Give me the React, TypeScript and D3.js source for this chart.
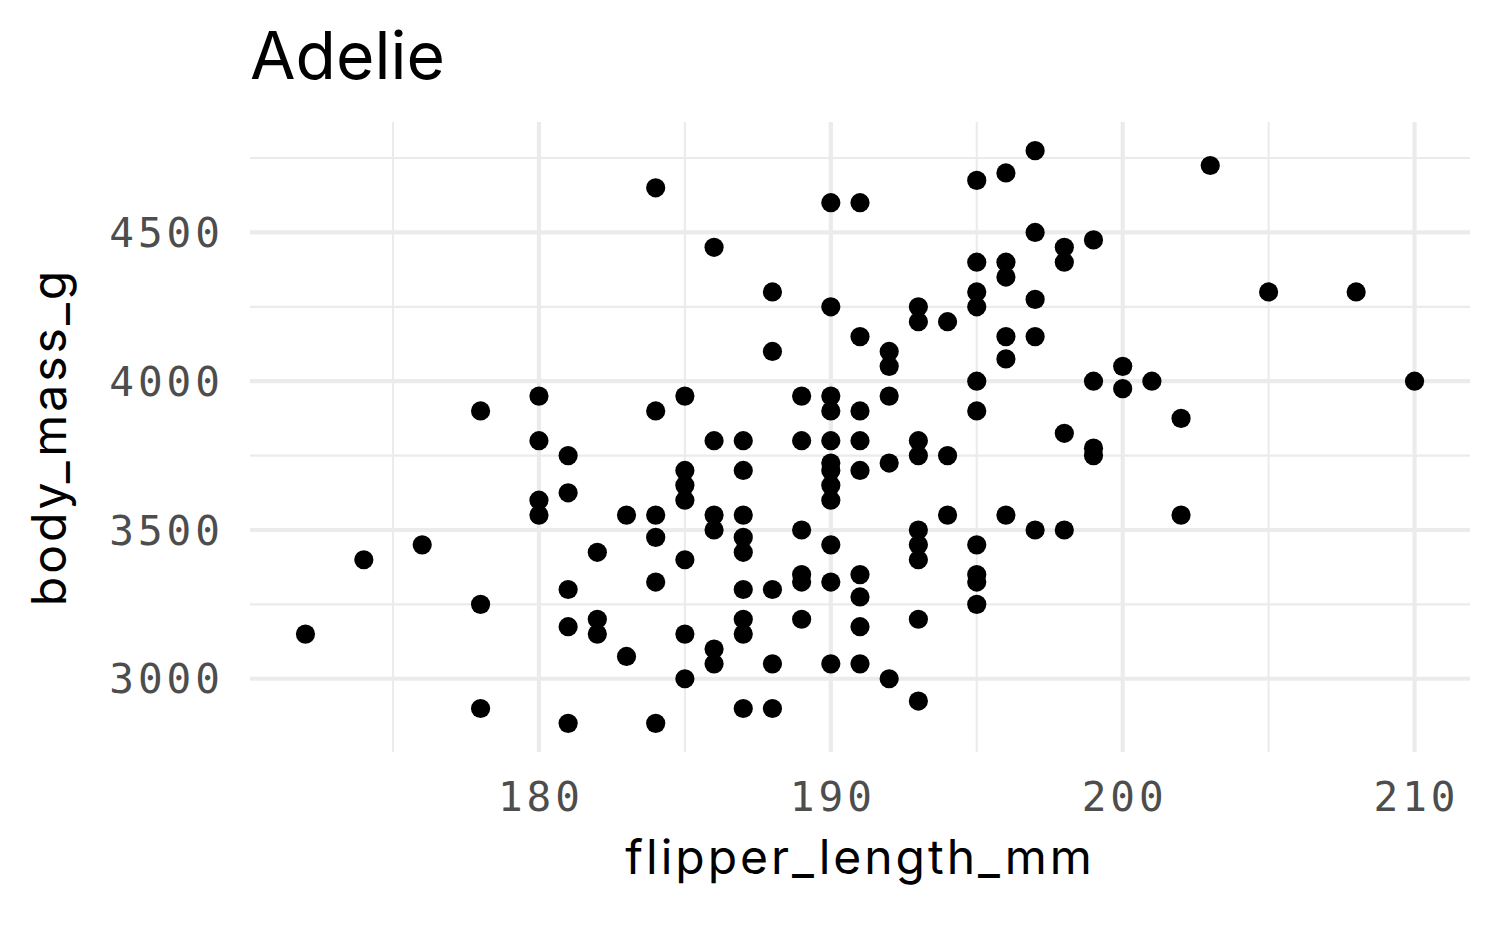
import React from 'react';
import * as d3 from 'd3';

// Adelie penguins: flipper length (mm) vs body mass (g)
const flipper_length_mm = [
  172, 174, 176,
  178, 178, 178,
  180, 180, 180, 180,
  181, 181, 181, 181, 181,
  182, 182, 182,
  183, 183,
  184, 184, 184, 184, 184, 184,
  185, 185, 185, 185, 185, 185, 185,
  186, 186, 186, 186, 186, 186,
  187, 187, 187, 187, 187, 187, 187, 187, 187,
  188, 188, 188, 188, 188,
  189, 189, 189, 189, 189, 189,
  190, 190, 190, 190, 190, 190, 190, 190, 190, 190, 190, 190,
  191, 191, 191, 191, 191, 191, 191, 191, 191,
  192, 192, 192, 192, 192,
  193, 193, 193, 193, 193, 193, 193, 193, 193,
  194, 194, 194,
  195, 195, 195, 195, 195, 195, 195, 195, 195, 195,
  196, 196, 196, 196, 196, 196,
  197, 197, 197, 197, 197,
  198, 198, 198, 198,
  199, 199, 199, 199,
  200, 200,
  201,
  202, 202,
  203, 205, 208, 210,
];

const body_mass_g = [
  3150, 3400, 3450,
  3900, 3250, 2900,
  3950, 3800, 3600, 3550,
  3750, 3625, 3300, 3175, 2850,
  3425, 3200, 3150,
  3550, 3075,
  4650, 3900, 3550, 3475, 3325, 2850,
  3950, 3700, 3650, 3600, 3400, 3150, 3000,
  4450, 3800, 3550, 3500, 3100, 3050,
  3800, 3700, 3550, 3475, 3425, 3300, 3200, 3150, 2900,
  4300, 4100, 3300, 3050, 2900,
  3950, 3800, 3500, 3350, 3325, 3200,
  4600, 4250, 3950, 3900, 3800, 3725, 3700, 3650, 3600, 3450, 3325, 3050,
  4600, 4150, 3900, 3800, 3700, 3350, 3275, 3175, 3050,
  4100, 4050, 3950, 3725, 3000,
  4250, 4200, 3800, 3750, 3500, 3450, 3400, 3200, 2925,
  4200, 3750, 3550,
  4675, 4400, 4300, 4250, 4000, 3900, 3450, 3350, 3325, 3250,
  4700, 4400, 4350, 4150, 4075, 3550,
  4775, 4500, 4275, 4150, 3500,
  4450, 4400, 3825, 3500,
  4475, 4000, 3775, 3750,
  4050, 3975,
  4000,
  3875, 3550,
  4725, 4300, 4300, 4000,
];

const xTicks = [180, 190, 200, 210];
const xMinor = [175, 185, 195, 205];
const yTicks = [3000, 3500, 4000, 4500];
const yMinor = [3250, 3750, 4250, 4750];

const W = 1500;
const H = 927;
const panel = { left: 250, right: 1470, top: 122, bottom: 752 };

const sansFont = 'Inter, "Noto Sans", sans-serif';
const monoFont = '"DejaVu Sans Mono", "Liberation Mono", monospace';

export default function App() {
  const xExt = d3.extent(flipper_length_mm) as [number, number];
  const yExt = d3.extent(body_mass_g) as [number, number];
  // ggplot-style 5% expansion
  const xPad = (xExt[1] - xExt[0]) * 0.05;
  const yPad = (yExt[1] - yExt[0]) * 0.05;

  const x = d3.scaleLinear()
    .domain([xExt[0] - xPad, xExt[1] + xPad])
    .range([panel.left, panel.right]);
  const y = d3.scaleLinear()
    .domain([yExt[0] - yPad, yExt[1] + yPad])
    .range([panel.bottom, panel.top]);

  const grid = '#ebebeb';

  return (
    <svg width={W} height={H} style={{ position: 'absolute', left: 0, top: 0, background: '#fff' }}>
      {/* minor grid */}
      {yMinor.map(v => (
        <line key={'ym' + v} x1={panel.left} x2={panel.right} y1={y(v)} y2={y(v)} stroke={grid} strokeWidth={2.1} />
      ))}
      {xMinor.map(v => (
        <line key={'xm' + v} x1={x(v)} x2={x(v)} y1={panel.top} y2={panel.bottom} stroke={grid} strokeWidth={2.1} />
      ))}
      {/* major grid */}
      {yTicks.map(v => (
        <line key={'yM' + v} x1={panel.left} x2={panel.right} y1={y(v)} y2={y(v)} stroke={grid} strokeWidth={4.2} />
      ))}
      {xTicks.map(v => (
        <line key={'xM' + v} x1={x(v)} x2={x(v)} y1={panel.top} y2={panel.bottom} stroke={grid} strokeWidth={4.2} />
      ))}

      {/* points */}
      {flipper_length_mm.map((f, i) => (
        <circle key={i} cx={x(f)} cy={y(body_mass_g[i])} r={9.6} fill="#000" />
      ))}

      {/* tick labels */}
      {xTicks.map(v => (
        <text key={'xt' + v} x={x(v) + 2} y={811} textAnchor="middle" fontFamily={monoFont} fontSize={41} letterSpacing={4} fill="#4d4d4d">
          {v}
        </text>
      ))}
      {yTicks.map(v => (
        <text key={'yt' + v} x={224} y={y(v)} dy="0.36em" textAnchor="end" fontFamily={monoFont} fontSize={41} letterSpacing={4} fill="#4d4d4d">
          {v}
        </text>
      ))}

      {/* axis titles */}
      <text x={(panel.left + panel.right) / 2} y={874} textAnchor="middle" fontFamily={sansFont} fontSize={48} letterSpacing={3} fill="#000">
        flipper_length_mm
      </text>
      <text
        transform={`translate(${66},${(panel.top + panel.bottom) / 2}) rotate(-90)`}
        textAnchor="middle"
        fontFamily={sansFont}
        fontSize={48}
        letterSpacing={3}
        fill="#000"
      >
        body_mass_g
      </text>

      {/* title */}
      <text x={panel.left} y={79} fontFamily={sansFont} fontSize={66} fill="#000">
        Adelie
      </text>
    </svg>
  );
}
